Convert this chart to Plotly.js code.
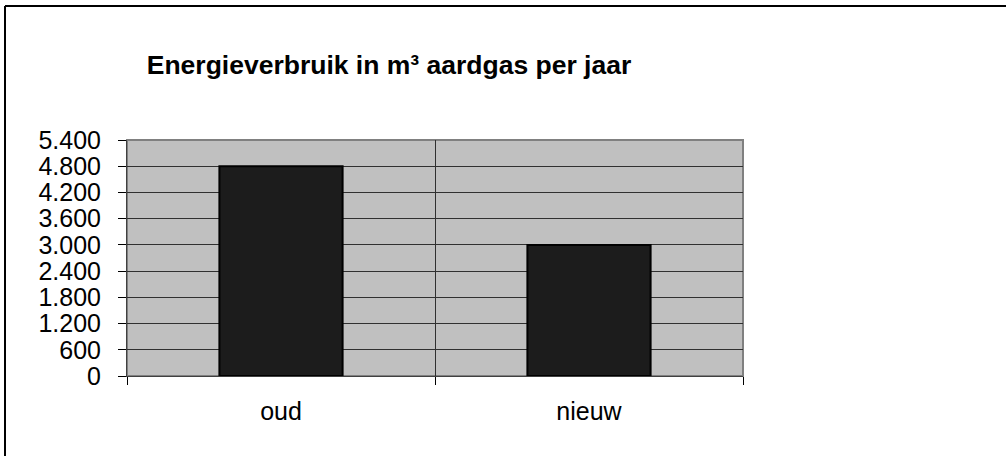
<!DOCTYPE html>
<html>
<head>
<meta charset="utf-8">
<script src="https://cdn.plot.ly/plotly-3.0.1.min.js"></script>
<style>html,body{margin:0;padding:0;background:#fff;}#chart{width:1006px;height:456px;}</style>
</head>
<body>
<div id="chart"></div>
<script>
const categories = ["oud", "nieuw"];
const values = [4800, 3000];
const tickValues = [0, 600, 1200, 1800, 2400, 3000, 3600, 4200, 4800, 5400];
const tickLabels = ["0", "600", "1.200", "1.800", "2.400", "3.000", "3.600", "4.200", "4.800", "5.400"];
const chartTitle = "Energieverbruik in m³ aardgas per jaar";

const FONT = "Liberation Sans, Arial, sans-serif";
const L = 127, R = 743, T = 140, B = 376, W = 1006, H = 456;
const px = x => (x - L) / (R - L);
const py = y => (B - y) / (B - T);

const trace = {
  type: "bar",
  x: categories,
  y: values,
  marker: { color: "#1c1c1c", line: { color: "#000000", width: 2 } },
  hoverinfo: "skip"
};

const layout = {
  width: W, height: H,
  margin: { l: L, r: W - R, t: T, b: H - B, pad: 0 },
  paper_bgcolor: "#ffffff",
  plot_bgcolor: "#c0c0c0",
  showlegend: false,
  bargap: 0.6,
  font: { family: FONT, color: "#000000" },
  title: {
    text: "<b>" + chartTitle + "</b>",
    font: { family: FONT, size: 26.5, color: "#000000" },
    xref: "container", x: 389 / W, xanchor: "center",
    yref: "container", y: 1 - 65 / H, yanchor: "middle"
  },
  xaxis: {
    type: "category",
    tickson: "boundaries",
    ticks: "outside", ticklen: 8, tickwidth: 1, tickcolor: "#000000",
    showgrid: true, gridcolor: "#303030", gridwidth: 1,
    showline: true, linecolor: "#404040", linewidth: 1,
    tickfont: { family: FONT, size: 25, color: "#000000" },
    ticklabelstandoff: 13,
    fixedrange: true
  },
  yaxis: {
    range: [0, 5400],
    tickmode: "array", tickvals: tickValues, ticktext: tickLabels,
    ticks: "outside", ticklen: 8, tickwidth: 1, tickcolor: "#000000",
    showgrid: true, gridcolor: "#303030", gridwidth: 1,
    zeroline: false,
    showline: true, linecolor: "#404040", linewidth: 1,
    tickfont: { family: FONT, size: 25, color: "#000000" },
    ticklabelstandoff: 12,
    fixedrange: true
  },
  shapes: [
    { type: "rect", xref: "paper", yref: "paper", x0: 0, x1: 1, y0: 0, y1: 1,
      line: { color: "#808080", width: 2 }, fillcolor: "rgba(0,0,0,0)", layer: "below" },
    { type: "line", xref: "paper", yref: "paper", x0: px(5), x1: px(5), y0: py(6), y1: py(460),
      line: { color: "#000000", width: 2 } },
    { type: "line", xref: "paper", yref: "paper", x0: px(5), x1: px(1010), y0: py(6), y1: py(6),
      line: { color: "#000000", width: 2 } }
  ]
};

Plotly.newPlot("chart", [trace], layout, { staticPlot: true, displayModeBar: false });
</script>
</body>
</html>
